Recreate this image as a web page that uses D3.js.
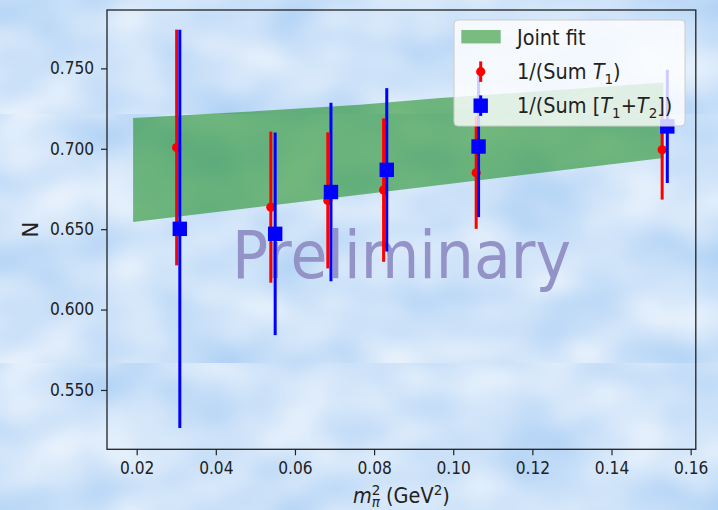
<!DOCTYPE html>
<html>
<head>
<meta charset="utf-8">
<script src="https://cdn.jsdelivr.net/npm/d3@7"></script>
<style>
	body { margin: 0; }
	svg { display: block; font-family: "DejaVu Sans", sans-serif; }
</style>
</head>
<body>
<svg id="chart" width="718" height="510"></svg>
<script>
/* values */
const mpiT1 = [0.0301, 0.0539, 0.0683, 0.0824, 0.1058, 0.1528];
const nT1 = [0.7008, 0.6637, 0.6679, 0.6743, 0.6851, 0.6994];
const errT1 = [0.0733, 0.0470, 0.0423, 0.0446, 0.0349, 0.0310];

const mpiT12 = [0.0309, 0.0550, 0.0691, 0.0832, 0.1064, 0.1541];
const nT12 = [0.6502, 0.6471, 0.6731, 0.6869, 0.7014, 0.7139];
const errT12 = [0.1238, 0.0630, 0.0555, 0.0508, 0.0439, 0.0352];

const fitX = [0.0191, 0.0444, 0.0764, 0.0967, 0.1531];
const fitLow = [0.6544, 0.6619, 0.6714, 0.6775, 0.6942];
const fitHigh = [0.7191, 0.7225, 0.7273, 0.7315, 0.7412];

const xTicks = [0.02, 0.04, 0.06, 0.08, 0.10, 0.12, 0.14, 0.16];
const yTicks = [0.55, 0.60, 0.65, 0.70, 0.75];

const squeeze = "scale(0.92,1)"; // the reference text is a bit narrow

const svg = d3.select("#chart");
const x = d3.scaleLinear().domain([0.0125, 0.1613]).range([107, 695.8]);
const y = d3.scaleLinear().domain([0.5131, 0.7863]).range([449.3, 10]);

/* cloudy sky background, tiled so the seams show like the original */
const defs = svg.append("defs");
const filt = defs.append("filter")
	.attr("id", "clouds")
	.attr("filterUnits", "userSpaceOnUse")
	.attr("x", 0).attr("y", 0).attr("width", 718).attr("height", 249)
	.attr("color-interpolation-filters", "sRGB");
filt.append("feTurbulence")
	.attr("type", "fractalNoise")
	.attr("baseFrequency", "0.012 0.018")
	.attr("numOctaves", 2)
	.attr("seed", 11);
filt.append("feColorMatrix")
	.attr("type", "matrix")
	.attr("values", "0.30 0 0 0 0.66  0.17 0 0 0 0.805  0.035 0 0 0 0.958  0 0 0 0 1");

defs.append("pattern")
	.attr("id", "sky")
	.attr("patternUnits", "userSpaceOnUse")
	.attr("x", 0).attr("y", 114)
	.attr("width", 718).attr("height", 249)
	.append("rect")
	.attr("width", 718).attr("height", 249)
	.attr("filter", "url(#clouds)");

svg.append("rect")
	.attr("width", 718)
	.attr("height", 510)
	.attr("fill", "url(#sky)");

/* joint fit band */
const band = fitX.map((d, i) => ({ x: d, lo: fitLow[i], hi: fitHigh[i] }));
svg.append("path")
	.datum(band)
	.attr("fill", "#008000")
	.attr("fill-opacity", 0.5)
	.attr("d", d3.area().x(d => x(d.x)).y0(d => y(d.lo)).y1(d => y(d.hi)));

/* watermark */
svg.append("text")
	.attr("transform", `translate(${(x.range()[0] + x.range()[1]) / 2},${y(0.6196)}) scale(0.91,1)`)
	.attr("text-anchor", "middle")
	.attr("font-size", "66px")
	.attr("fill", "#9393c7")
	.text("Preliminary");

/* error bars with markers */
function drawSeries(xs, ys, errs, color, shape) {
	const g = svg.append("g");
	const pts = xs.map((d, i) => ({ x: d, y: ys[i], e: errs[i] }));
	g.selectAll("line")
		.data(pts)
		.join("line")
		.attr("x1", d => x(d.x)).attr("x2", d => x(d.x))
		.attr("y1", d => y(d.y - d.e)).attr("y2", d => y(d.y + d.e))
		.attr("stroke", color)
		.attr("stroke-width", 3);
	if (shape === "circle") {
		g.selectAll("circle")
			.data(pts)
			.join("circle")
			.attr("cx", d => x(d.x)).attr("cy", d => y(d.y))
			.attr("r", 4.6)
			.attr("fill", color);
	} else {
		g.selectAll("rect")
			.data(pts)
			.join("rect")
			.attr("x", d => x(d.x) - 7.2).attr("y", d => y(d.y) - 7.2)
			.attr("width", 14.4).attr("height", 14.4)
			.attr("fill", color);
	}
}
drawSeries(mpiT1, nT1, errT1, "#ff0000", "circle");
drawSeries(mpiT12, nT12, errT12, "#0000ff", "square");

/* axes */
const xAxis = svg.append("g")
	.attr("transform", `translate(0,${y.range()[0]})`)
	.call(d3.axisBottom(x).tickValues(xTicks).tickFormat(d3.format(".2f")).tickSize(6).tickPadding(6.5));
const yAxis = svg.append("g")
	.attr("transform", `translate(${x.range()[0]},0)`)
	.call(d3.axisLeft(y).tickValues(yTicks).tickFormat(d3.format(".3f")).tickSize(6).tickPadding(8));

[xAxis, yAxis].forEach(a => {
	a.select(".domain").remove();
	a.selectAll("line").attr("stroke", "#222").attr("stroke-width", 1.2);
	a.selectAll("text")
		.attr("font-family", "DejaVu Sans")
		.attr("font-size", "16.8px")
		.attr("fill", "#222")
		.attr("transform", squeeze);
});

svg.append("rect")
	.attr("x", x.range()[0]).attr("y", y.range()[1])
	.attr("width", x.range()[1] - x.range()[0])
	.attr("height", y.range()[0] - y.range()[1])
	.attr("fill", "none")
	.attr("stroke", "#222")
	.attr("stroke-width", 1.3);

/* axis labels */
svg.append("text")
	.attr("transform", `translate(37.7,${(y.range()[0] + y.range()[1]) / 2}) rotate(-90)`)
	.attr("text-anchor", "middle")
	.attr("font-size", "21px")
	.attr("fill", "#222")
	.text("N");

const xl = svg.append("text")
	.attr("transform", `translate(${(x.range()[0] + x.range()[1]) / 2},503) ${squeeze}`)
	.attr("text-anchor", "middle")
	.attr("font-size", "21px")
	.attr("fill", "#222");
xl.append("tspan").attr("font-style", "italic").text("m");
xl.append("tspan").attr("font-size", "14.7px").attr("dy", -8).text("2");
xl.append("tspan").attr("font-size", "14.7px").attr("font-style", "italic").attr("dx", -9.4).attr("dy", 12).text("π");
xl.append("tspan").attr("dy", -4).text(" (GeV");
xl.append("tspan").attr("font-size", "14.7px").attr("dy", -8).text("2");
xl.append("tspan").attr("dy", 8).text(")");

/* legend */
const legend = svg.append("g");
legend.append("rect")
	.attr("x", 454).attr("y", 20)
	.attr("width", 231).attr("height", 106)
	.attr("rx", 4)
	.attr("fill", "#ffffff")
	.attr("fill-opacity", 0.8)
	.attr("stroke", "#cccccc")
	.attr("stroke-width", 1);

const legendRows = [45.4, 79.4, 113.4];

legend.append("rect")
	.attr("x", 461.3).attr("y", legendRows[0] - 15.4)
	.attr("width", 39.4).attr("height", 13.4)
	.attr("fill", "#008000")
	.attr("fill-opacity", 0.5);

legend.append("line")
	.attr("x1", 480.7).attr("x2", 480.7)
	.attr("y1", legendRows[1] - 18).attr("y2", legendRows[1] + 2.5)
	.attr("stroke", "#ff0000").attr("stroke-width", 3);
legend.append("circle")
	.attr("cx", 480.7).attr("cy", legendRows[1] - 7.7)
	.attr("r", 4.6).attr("fill", "#ff0000");

legend.append("line")
	.attr("x1", 480.7).attr("x2", 480.7)
	.attr("y1", legendRows[2] - 18).attr("y2", legendRows[2] + 2.5)
	.attr("stroke", "#0000ff").attr("stroke-width", 3);
legend.append("rect")
	.attr("x", 480.7 - 7.2).attr("y", legendRows[2] - 7.7 - 7.2)
	.attr("width", 14.4).attr("height", 14.4)
	.attr("fill", "#0000ff");

function legendText(yPos) {
	return legend.append("text")
		.attr("transform", `translate(517,${yPos}) ${squeeze}`)
		.attr("font-size", "21px")
		.attr("fill", "#222");
}

legendText(legendRows[0]).text("Joint fit");

const t1 = legendText(legendRows[1]);
t1.append("tspan").text("1/(Sum ");
t1.append("tspan").attr("font-style", "italic").text("T");
t1.append("tspan").attr("font-size", "14.7px").attr("dy", 4.5).text("1");
t1.append("tspan").attr("dy", -4.5).text(")");

const t2 = legendText(legendRows[2]);
t2.append("tspan").text("1/(Sum [");
t2.append("tspan").attr("font-style", "italic").text("T");
t2.append("tspan").attr("font-size", "14.7px").attr("dy", 4.5).text("1");
t2.append("tspan").attr("dy", -4.5).text("+");
t2.append("tspan").attr("font-style", "italic").text("T");
t2.append("tspan").attr("font-size", "14.7px").attr("dy", 4.5).text("2");
t2.append("tspan").attr("dy", -4.5).text("])");
</script>
</body>
</html>
